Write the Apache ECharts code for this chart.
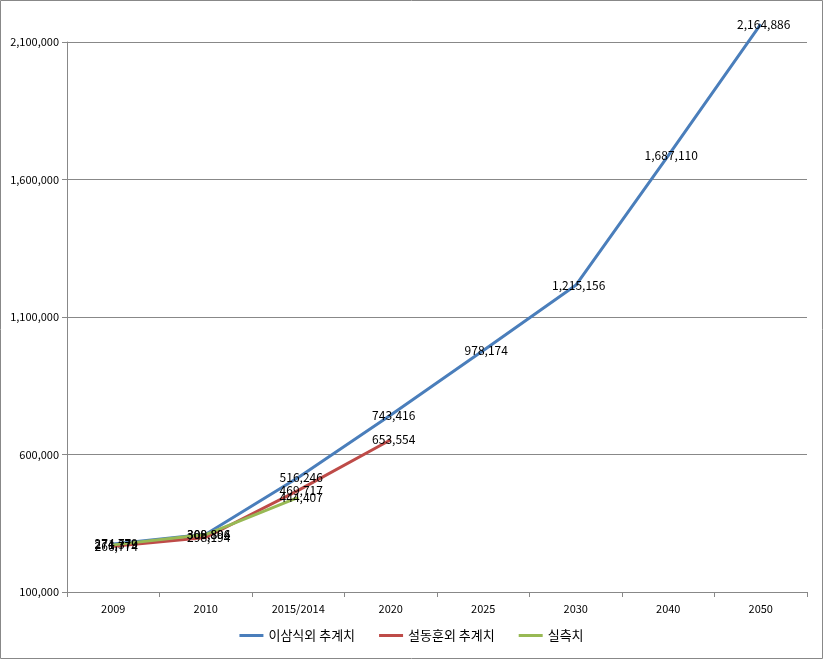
<!DOCTYPE html>
<html><head><meta charset="utf-8">
<script src="https://cdn.jsdelivr.net/npm/echarts@6/dist/echarts.min.js"></script>
<style>html,body{margin:0;padding:0;background:#fff}#c{width:823px;height:659px}</style>
</head><body><div id="c"></div>
<script>
var categories = ['2009','2010','2015/2014','2020','2025','2030','2040','2050'];
var seriesNames = ['이삼식외 추계치','설동훈외 추계치','실측치'];
var leeValues = [274779, 309806, 516246, 743416, 978174, 1215156, 1687110, 2164886];
var seolValues = [266774, 298194, 469717, 653554, null, null, null, null];
var actualValues = [271379, 308894, 444407, null, null, null, null, null];
var yTicks = [100000, 600000, 1100000, 1600000, 2100000];
var colors = ['#4A7EBB', '#BE4B48', '#98B954'];

var font = '"Noto Sans CJK KR", "DejaVu Sans", sans-serif';
function mk(name, data, color) {
  return {
    name: name, type: 'line', data: data, symbol: 'circle', symbolSize: 1,
    showSymbol: true, connectNulls: false, clip: false,
    itemStyle: { color: 'rgba(0,0,0,0)', borderWidth: 0 },
    lineStyle: { color: color, width: 3 },
    label: { show: true, position: 'inside', offset: [3, 0], color: '#000', fontSize: 12, fontFamily: font,
      formatter: function (p) { return p.value == null ? '' : p.value.toLocaleString('en-US'); } },
    emphasis: { disabled: true }
  };
}
var chart = echarts.init(document.getElementById('c'), null, { renderer: 'canvas' });
chart.setOption({
  animation: false,
  color: colors,
  grid: { left: 67, right: 16, top: 42, bottom: 67 },
  graphic: [{ type: 'rect', shape: { x: 0.5, y: 0.5, width: 822, height: 658 }, style: { fill: 'none', stroke: '#888', lineWidth: 1 }, silent: true }],
  legend: {
    bottom: 12, left: 'center', itemWidth: 24, itemHeight: 3, itemGap: 24,
    icon: 'rect',
    textStyle: { fontFamily: font, fontSize: 13, color: '#000' },
    data: seriesNames.map(function (n, i) { return { name: n, itemStyle: { color: colors[i] } }; })
  },
  xAxis: {
    type: 'category', data: categories, boundaryGap: true,
    axisLine: { lineStyle: { color: '#888' } },
    axisTick: { show: true, alignWithLabel: false, length: 5, lineStyle: { color: '#888' } },
    axisLabel: { color: '#000', fontSize: 11, fontFamily: font, margin: 11 }
  },
  yAxis: {
    type: 'value', min: yTicks[0], max: yTicks[yTicks.length - 1], interval: 500000,
    axisLine: { show: true, lineStyle: { color: '#888' } },
    axisTick: { show: true, length: 5, lineStyle: { color: '#888' } },
    splitLine: { lineStyle: { color: '#888' } },
    axisLabel: { color: '#000', fontSize: 11, fontFamily: font, margin: 8,
      formatter: function (v) { return v.toLocaleString('en-US'); } }
  },
  series: [mk(seriesNames[0], leeValues, colors[0]), mk(seriesNames[1], seolValues, colors[1]), mk(seriesNames[2], actualValues, colors[2])]
});
</script></body></html>
